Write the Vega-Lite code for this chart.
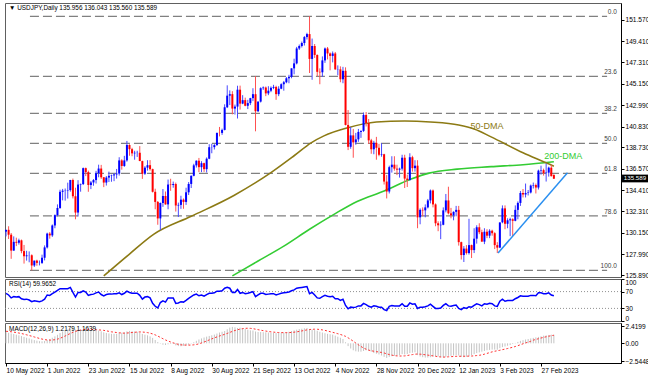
{
"$schema":"https://vega.github.io/schema/vega-lite/v6.json",
"background":"white",
"padding":{"left":2,"top":2,"right":0,"bottom":0},
"spacing":2,
"bounds":"flush",
"config":{"view":{"stroke":"#606060"},"font":"Liberation Sans","axis":{"labelFont":"Liberation Sans","labelFontSize":6.6,"labelColor":"#000000","domainColor":"#000000","tickColor":"#000000","tickSize":3,"labelPadding":1,"grid":false,"title":null,"labelOverlap":false,"labelFlush":false,"tickCount":40}},
"datasets":{
"k":[
{"i":0,"o":130.26,"h":130.44,"l":129.78,"c":130.44,"r":66,"m":1.60,"s":1.73},
{"i":1,"o":130.44,"h":130.80,"l":129.52,"c":129.95,"r":62,"m":1.52,"s":1.70},
{"i":2,"o":129.95,"h":130.12,"l":127.52,"c":128.35,"r":55,"m":1.42,"s":1.66},
{"i":3,"o":128.35,"h":129.78,"l":128.33,"c":129.23,"r":58,"m":1.33,"s":1.61},
{"i":4,"o":129.23,"h":129.65,"l":128.80,"c":129.14,"r":57,"m":1.24,"s":1.55},
{"i":5,"o":129.14,"h":129.55,"l":128.95,"c":129.38,"r":58,"m":1.15,"s":1.48},
{"i":6,"o":129.38,"h":129.46,"l":128.08,"c":128.30,"r":53,"m":1.04,"s":1.41},
{"i":7,"o":128.30,"h":128.92,"l":127.04,"c":127.78,"r":51,"m":0.92,"s":1.32},
{"i":8,"o":127.78,"h":128.33,"l":127.34,"c":127.87,"r":52,"m":0.80,"s":1.22},
{"i":9,"o":127.87,"h":128.27,"l":127.17,"c":127.88,"r":50,"m":0.70,"s":1.12},
{"i":10,"o":127.88,"h":127.97,"l":126.36,"c":126.85,"r":46,"m":0.56,"s":1.02},
{"i":11,"o":126.85,"h":127.34,"l":126.70,"c":127.34,"r":48,"m":0.46,"s":0.91},
{"i":12,"o":127.34,"h":127.43,"l":126.82,"c":127.11,"r":47,"m":0.38,"s":0.81},
{"i":13,"o":127.11,"h":127.35,"l":126.86,"c":127.12,"r":46,"m":0.31,"s":0.70},
{"i":14,"o":127.11,"h":127.94,"l":127.00,"c":127.63,"r":48,"m":0.28,"s":0.61},
{"i":15,"o":127.63,"h":128.87,"l":127.36,"c":128.67,"r":52,"m":0.33,"s":0.53},
{"i":16,"o":128.67,"h":130.15,"l":128.56,"c":130.06,"r":62,"m":0.48,"s":0.48},
{"i":17,"o":130.06,"h":130.21,"l":129.55,"c":129.88,"r":61,"m":0.62,"s":0.46},
{"i":18,"o":129.88,"h":130.98,"l":129.73,"c":130.88,"r":65,"m":0.80,"s":0.47},
{"i":19,"o":130.88,"h":131.99,"l":130.60,"c":131.92,"r":69,"m":1.00,"s":0.52},
{"i":20,"o":131.92,"h":133.00,"l":131.79,"c":132.64,"r":73,"m":1.22,"s":0.60},
{"i":21,"o":132.64,"h":134.48,"l":132.55,"c":134.27,"r":77,"m":1.48,"s":0.72},
{"i":22,"o":134.27,"h":134.56,"l":133.41,"c":134.38,"r":77,"m":1.70,"s":0.88},
{"i":23,"o":134.38,"h":134.60,"l":133.38,"c":134.40,"r":77,"m":1.86,"s":1.05},
{"i":24,"o":134.40,"h":135.19,"l":133.59,"c":134.44,"r":77,"m":1.97,"s":1.24},
{"i":25,"o":134.44,"h":135.47,"l":134.28,"c":135.46,"r":80,"m":2.07,"s":1.41},
{"i":26,"o":135.46,"h":135.60,"l":133.60,"c":133.82,"r":68,"m":2.16,"s":1.58},
{"i":27,"o":133.82,"h":134.68,"l":131.50,"c":132.18,"r":57,"m":1.98,"s":1.72},
{"i":28,"o":132.18,"h":135.44,"l":131.78,"c":135.00,"r":68,"m":1.96,"s":1.82},
{"i":29,"o":135.00,"h":135.10,"l":134.28,"c":135.05,"r":68,"m":1.95,"s":1.90},
{"i":30,"o":135.05,"h":136.71,"l":134.95,"c":136.65,"r":72,"m":2.05,"s":1.97},
{"i":31,"o":136.65,"h":136.71,"l":135.85,"c":136.25,"r":69,"m":2.10,"s":2.01},
{"i":32,"o":136.25,"h":136.40,"l":134.27,"c":134.95,"r":61,"m":1.98,"s":2.02},
{"i":33,"o":134.95,"h":135.36,"l":134.54,"c":135.21,"r":63,"m":1.88,"s":2.01},
{"i":34,"o":135.21,"h":135.55,"l":134.88,"c":135.45,"r":64,"m":1.80,"s":1.98},
{"i":35,"o":135.45,"h":136.38,"l":135.10,"c":136.14,"r":67,"m":1.80,"s":1.94},
{"i":36,"o":136.14,"h":137.00,"l":135.73,"c":136.61,"r":69,"m":1.84,"s":1.93},
{"i":37,"o":136.61,"h":136.98,"l":135.57,"c":135.73,"r":63,"m":1.72,"s":1.90},
{"i":38,"o":135.73,"h":135.76,"l":134.74,"c":135.20,"r":60,"m":1.58,"s":1.86},
{"i":39,"o":135.20,"h":135.85,"l":134.90,"c":135.70,"r":63,"m":1.48,"s":1.80},
{"i":40,"o":135.70,"h":136.30,"l":135.25,"c":135.88,"r":64,"m":1.42,"s":1.72},
{"i":41,"o":135.88,"h":136.00,"l":135.28,"c":135.92,"r":64,"m":1.37,"s":1.65},
{"i":42,"o":135.92,"h":136.14,"l":135.34,"c":136.02,"r":65,"m":1.36,"s":1.60},
{"i":43,"o":136.02,"h":136.57,"l":135.60,"c":136.10,"r":65,"m":1.36,"s":1.55},
{"i":44,"o":136.10,"h":137.75,"l":135.90,"c":137.43,"r":67,"m":1.50,"s":1.51},
{"i":45,"o":137.43,"h":137.55,"l":136.50,"c":136.87,"r":63,"m":1.52,"s":1.48},
{"i":46,"o":136.87,"h":137.89,"l":136.78,"c":137.43,"r":66,"m":1.58,"s":1.46},
{"i":47,"o":137.43,"h":139.39,"l":137.30,"c":138.98,"r":71,"m":1.72,"s":1.48},
{"i":48,"o":138.98,"h":139.05,"l":137.90,"c":138.56,"r":68,"m":1.78,"s":1.51},
{"i":49,"o":138.56,"h":138.70,"l":137.85,"c":138.14,"r":66,"m":1.74,"s":1.55},
{"i":50,"o":138.14,"h":138.40,"l":137.50,"c":138.20,"r":66,"m":1.70,"s":1.58},
{"i":51,"o":138.20,"h":138.40,"l":137.78,"c":138.21,"r":66,"m":1.65,"s":1.62},
{"i":52,"o":138.20,"h":138.87,"l":137.40,"c":137.36,"r":61,"m":1.55,"s":1.64},
{"i":53,"o":137.36,"h":137.40,"l":135.57,"c":136.09,"r":52,"m":1.35,"s":1.62},
{"i":54,"o":136.09,"h":136.85,"l":135.97,"c":136.70,"r":57,"m":1.24,"s":1.59},
{"i":55,"o":136.70,"h":137.45,"l":136.40,"c":136.95,"r":58,"m":1.15,"s":1.54},
{"i":56,"o":136.95,"h":137.46,"l":136.40,"c":136.55,"r":55,"m":1.00,"s":1.46},
{"i":57,"o":136.55,"h":136.60,"l":134.20,"c":134.27,"r":42,"m":0.78,"s":1.35},
{"i":58,"o":134.27,"h":134.58,"l":132.51,"c":133.25,"r":35,"m":0.48,"s":1.21},
{"i":59,"o":133.25,"h":133.34,"l":130.95,"c":131.59,"r":31,"m":0.18,"s":1.04},
{"i":60,"o":131.59,"h":133.19,"l":130.41,"c":133.14,"r":44,"m":-0.06,"s":0.85},
{"i":61,"o":133.14,"h":134.55,"l":132.75,"c":133.85,"r":48,"m":-0.20,"s":0.66},
{"i":62,"o":133.85,"h":134.30,"l":132.97,"c":133.00,"r":45,"m":-0.24,"s":0.48},
{"i":63,"o":133.00,"h":135.50,"l":132.51,"c":135.00,"r":55,"m":-0.14,"s":0.33},
{"i":64,"o":135.00,"h":135.58,"l":134.37,"c":134.95,"r":55,"m":-0.10,"s":0.19},
{"i":65,"o":134.95,"h":135.30,"l":134.68,"c":135.05,"r":55,"m":-0.10,"s":0.07},
{"i":66,"o":135.05,"h":135.20,"l":132.28,"c":132.89,"r":42,"m":-0.30,"s":-0.05},
{"i":67,"o":132.89,"h":133.18,"l":131.73,"c":132.95,"r":43,"m":-0.40,"s":-0.15},
{"i":68,"o":132.95,"h":133.87,"l":132.55,"c":133.48,"r":46,"m":-0.42,"s":-0.22},
{"i":69,"o":133.48,"h":133.60,"l":132.56,"c":133.25,"r":45,"m":-0.36,"s":-0.25},
{"i":70,"o":133.25,"h":134.68,"l":132.95,"c":134.22,"r":49,"m":-0.30,"s":-0.26},
{"i":71,"o":134.22,"h":135.25,"l":133.95,"c":135.06,"r":54,"m":-0.20,"s":-0.26},
{"i":72,"o":135.06,"h":135.92,"l":134.65,"c":135.88,"r":58,"m":-0.05,"s":-0.25},
{"i":73,"o":135.88,"h":137.09,"l":135.83,"c":136.93,"r":62,"m":0.15,"s":-0.22},
{"i":74,"o":136.93,"h":137.43,"l":136.71,"c":137.40,"r":64,"m":0.36,"s":-0.17},
{"i":75,"o":137.40,"h":137.68,"l":136.25,"c":136.75,"r":60,"m":0.55,"s":-0.07},
{"i":76,"o":136.75,"h":137.35,"l":136.25,"c":137.15,"r":62,"m":0.70,"s":0.05},
{"i":77,"o":137.15,"h":137.20,"l":136.27,"c":136.55,"r":59,"m":0.84,"s":0.19},
{"i":78,"o":136.55,"h":137.73,"l":136.21,"c":137.60,"r":63,"m":0.96,"s":0.33},
{"i":79,"o":137.60,"h":139.06,"l":137.55,"c":138.76,"r":66,"m":1.06,"s":0.49},
{"i":80,"o":138.76,"h":139.10,"l":138.15,"c":138.77,"r":66,"m":1.15,"s":0.64},
{"i":81,"o":138.77,"h":139.07,"l":138.53,"c":138.97,"r":67,"m":1.25,"s":0.78},
{"i":82,"o":138.97,"h":140.23,"l":138.90,"c":140.20,"r":71,"m":1.40,"s":0.92},
{"i":83,"o":140.20,"h":140.80,"l":139.85,"c":140.19,"r":71,"m":1.55,"s":1.05},
{"i":84,"o":140.20,"h":140.63,"l":140.00,"c":140.50,"r":72,"m":1.66,"s":1.17},
{"i":85,"o":140.50,"h":143.08,"l":140.45,"c":142.78,"r":78,"m":1.77,"s":1.29},
{"i":86,"o":142.78,"h":144.99,"l":142.70,"c":143.95,"r":80,"m":2.02,"s":1.42},
{"i":87,"o":143.95,"h":144.48,"l":143.00,"c":144.10,"r":78,"m":2.26,"s":1.57},
{"i":88,"o":144.10,"h":144.40,"l":142.07,"c":142.65,"r":68,"m":2.36,"s":1.71},
{"i":89,"o":142.65,"h":143.05,"l":142.05,"c":142.85,"r":68,"m":2.30,"s":1.84},
{"i":90,"o":142.85,"h":144.95,"l":141.65,"c":144.55,"r":75,"m":2.20,"s":1.95},
{"i":91,"o":144.55,"h":144.96,"l":142.55,"c":143.15,"r":66,"m":2.25,"s":2.04},
{"i":92,"o":143.15,"h":144.00,"l":143.09,"c":143.50,"r":68,"m":2.15,"s":2.11},
{"i":93,"o":143.50,"h":143.75,"l":142.88,"c":142.93,"r":65,"m":2.05,"s":2.15},
{"i":94,"o":142.93,"h":143.53,"l":142.60,"c":143.20,"r":66,"m":1.95,"s":2.17},
{"i":95,"o":143.20,"h":143.73,"l":143.00,"c":143.70,"r":68,"m":1.86,"s":2.15},
{"i":96,"o":143.70,"h":144.70,"l":143.40,"c":144.10,"r":70,"m":1.84,"s":2.11},
{"i":97,"o":144.10,"h":145.90,"l":140.36,"c":142.38,"r":58,"m":1.70,"s":2.03},
{"i":98,"o":142.38,"h":143.37,"l":142.30,"c":143.35,"r":62,"m":1.62,"s":1.96},
{"i":99,"o":143.35,"h":144.79,"l":143.26,"c":144.70,"r":66,"m":1.62,"s":1.89},
{"i":100,"o":144.70,"h":144.88,"l":144.53,"c":144.77,"r":66,"m":1.60,"s":1.82},
{"i":101,"o":144.77,"h":144.87,"l":143.90,"c":144.18,"r":63,"m":1.58,"s":1.76},
{"i":102,"o":144.18,"h":144.90,"l":144.00,"c":144.45,"r":64,"m":1.55,"s":1.70},
{"i":103,"o":144.45,"h":144.88,"l":144.30,"c":144.74,"r":65,"m":1.52,"s":1.65},
{"i":104,"o":144.74,"h":145.04,"l":144.60,"c":144.83,"r":65,"m":1.50,"s":1.61},
{"i":105,"o":144.83,"h":144.95,"l":143.53,"c":144.10,"r":62,"m":1.48,"s":1.57},
{"i":106,"o":144.10,"h":144.90,"l":143.90,"c":144.65,"r":64,"m":1.48,"s":1.55},
{"i":107,"o":144.65,"h":145.19,"l":144.60,"c":145.10,"r":66,"m":1.50,"s":1.54},
{"i":108,"o":145.10,"h":145.43,"l":144.45,"c":145.30,"r":67,"m":1.55,"s":1.53},
{"i":109,"o":145.30,"h":145.82,"l":145.20,"c":145.70,"r":68,"m":1.60,"s":1.53},
{"i":110,"o":145.70,"h":146.05,"l":145.20,"c":145.85,"r":69,"m":1.66,"s":1.54},
{"i":111,"o":145.85,"h":146.70,"l":145.70,"c":146.70,"r":72,"m":1.76,"s":1.56},
{"i":112,"o":146.70,"h":147.67,"l":146.10,"c":147.20,"r":74,"m":1.86,"s":1.60},
{"i":113,"o":147.20,"h":148.86,"l":147.10,"c":148.70,"r":78,"m":1.96,"s":1.65},
{"i":114,"o":148.70,"h":149.10,"l":148.55,"c":148.95,"r":79,"m":2.05,"s":1.71},
{"i":115,"o":148.95,"h":149.40,"l":148.80,"c":149.25,"r":80,"m":2.10,"s":1.78},
{"i":116,"o":149.25,"h":149.95,"l":149.00,"c":149.85,"r":81,"m":2.16,"s":1.86},
{"i":117,"o":149.85,"h":150.28,"l":149.60,"c":150.15,"r":82,"m":2.20,"s":1.93},
{"i":118,"o":150.15,"h":151.94,"l":146.23,"c":147.65,"r":65,"m":2.05,"s":1.98},
{"i":119,"o":147.65,"h":149.70,"l":145.55,"c":148.95,"r":68,"m":2.00,"s":2.02},
{"i":120,"o":148.95,"h":149.15,"l":147.75,"c":148.05,"r":62,"m":1.90,"s":2.03},
{"i":121,"o":148.05,"h":148.10,"l":145.90,"c":146.35,"r":55,"m":1.80,"s":2.02},
{"i":122,"o":146.35,"h":146.70,"l":145.10,"c":146.30,"r":54,"m":1.65,"s":1.99},
{"i":123,"o":146.30,"h":147.90,"l":145.85,"c":147.50,"r":58,"m":1.55,"s":1.93},
{"i":124,"o":147.50,"h":148.80,"l":147.25,"c":148.70,"r":61,"m":1.45,"s":1.86},
{"i":125,"o":148.70,"h":148.85,"l":147.60,"c":148.20,"r":59,"m":1.36,"s":1.77},
{"i":126,"o":148.20,"h":148.30,"l":146.50,"c":147.95,"r":58,"m":1.30,"s":1.67},
{"i":127,"o":147.95,"h":148.40,"l":147.30,"c":148.20,"r":59,"m":1.25,"s":1.58},
{"i":128,"o":148.20,"h":148.35,"l":146.55,"c":146.60,"r":53,"m":1.10,"s":1.48},
{"i":129,"o":146.60,"h":147.00,"l":146.00,"c":146.62,"r":53,"m":0.95,"s":1.38},
{"i":130,"o":146.60,"h":146.90,"l":145.30,"c":145.60,"r":49,"m":0.80,"s":1.27},
{"i":131,"o":145.60,"h":146.85,"l":145.20,"c":146.45,"r":52,"m":0.62,"s":1.15},
{"i":132,"o":146.45,"h":146.80,"l":140.95,"c":141.00,"r":37,"m":0.15,"s":1.00},
{"i":133,"o":141.00,"h":142.50,"l":138.47,"c":138.80,"r":29,"m":-0.40,"s":0.79},
{"i":134,"o":138.80,"h":140.80,"l":138.60,"c":139.95,"r":33,"m":-0.75,"s":0.56},
{"i":135,"o":139.95,"h":140.60,"l":137.70,"c":139.25,"r":32,"m":-1.00,"s":0.30},
{"i":136,"o":139.25,"h":140.20,"l":139.00,"c":139.55,"r":33,"m":-1.15,"s":0.04},
{"i":137,"o":139.55,"h":140.60,"l":139.30,"c":140.30,"r":36,"m":-1.20,"s":-0.22},
{"i":138,"o":140.30,"h":140.45,"l":139.70,"c":140.40,"r":36,"m":-1.20,"s":-0.46},
{"i":139,"o":140.40,"h":142.25,"l":140.30,"c":142.00,"r":42,"m":-1.10,"s":-0.67},
{"i":140,"o":142.00,"h":142.30,"l":140.85,"c":141.20,"r":39,"m":-1.00,"s":-0.85},
{"i":141,"o":141.20,"h":141.60,"l":139.10,"c":139.45,"r":35,"m":-1.05,"s":-0.98},
{"i":142,"o":139.45,"h":139.60,"l":138.10,"c":138.55,"r":33,"m":-1.20,"s":-1.07},
{"i":143,"o":138.55,"h":139.40,"l":138.05,"c":139.20,"r":36,"m":-1.40,"s":-1.14},
{"i":144,"o":139.20,"h":139.80,"l":137.50,"c":138.70,"r":35,"m":-1.50,"s":-1.20},
{"i":145,"o":138.70,"h":139.10,"l":137.85,"c":138.00,"r":33,"m":-1.60,"s":-1.25},
{"i":146,"o":138.00,"h":139.15,"l":137.80,"c":138.05,"r":33,"m":-1.75,"s":-1.31},
{"i":147,"o":138.05,"h":138.10,"l":135.00,"c":135.30,"r":27,"m":-1.95,"s":-1.39},
{"i":148,"o":135.30,"h":135.95,"l":133.60,"c":134.30,"r":25,"m":-2.10,"s":-1.51},
{"i":149,"o":134.30,"h":136.90,"l":134.10,"c":136.75,"r":35,"m":-1.95,"s":-1.61},
{"i":150,"o":136.75,"h":137.85,"l":136.20,"c":137.00,"r":37,"m":-1.85,"s":-1.70},
{"i":151,"o":137.00,"h":137.85,"l":136.40,"c":136.60,"r":36,"m":-1.80,"s":-1.77},
{"i":152,"o":136.60,"h":137.00,"l":135.95,"c":136.50,"r":36,"m":-1.75,"s":-1.81},
{"i":153,"o":136.50,"h":136.70,"l":135.70,"c":136.60,"r":36,"m":-1.70,"s":-1.83},
{"i":154,"o":136.60,"h":138.00,"l":136.40,"c":137.70,"r":41,"m":-1.55,"s":-1.82},
{"i":155,"o":137.70,"h":138.00,"l":134.65,"c":135.60,"r":35,"m":-1.60,"s":-1.81},
{"i":156,"o":135.60,"h":136.00,"l":134.75,"c":135.45,"r":35,"m":-1.55,"s":-1.76},
{"i":157,"o":135.45,"h":138.15,"l":135.40,"c":137.75,"r":43,"m":-1.40,"s":-1.68},
{"i":158,"o":137.75,"h":137.90,"l":136.30,"c":136.65,"r":40,"m":-1.35,"s":-1.62},
{"i":159,"o":136.65,"h":137.45,"l":136.30,"c":136.90,"r":41,"m":-1.30,"s":-1.56},
{"i":160,"o":136.90,"h":137.45,"l":130.60,"c":131.70,"r":30,"m":-1.70,"s":-1.54},
{"i":161,"o":131.70,"h":132.60,"l":131.00,"c":132.45,"r":33,"m":-1.90,"s":-1.56},
{"i":162,"o":132.45,"h":132.70,"l":131.80,"c":132.40,"r":33,"m":-2.00,"s":-1.59},
{"i":163,"o":132.40,"h":133.00,"l":131.70,"c":132.70,"r":34,"m":-2.05,"s":-1.65},
{"i":164,"o":132.70,"h":133.55,"l":132.60,"c":133.40,"r":36,"m":-2.05,"s":-1.70},
{"i":165,"o":133.40,"h":134.50,"l":133.10,"c":134.40,"r":40,"m":-2.00,"s":-1.75},
{"i":166,"o":134.40,"h":134.50,"l":132.70,"c":133.00,"r":35,"m":-1.90,"s":-1.81},
{"i":167,"o":133.00,"h":133.10,"l":130.80,"c":131.10,"r":30,"m":-1.85,"s":-1.86},
{"i":168,"o":131.10,"h":131.30,"l":130.30,"c":130.90,"r":30,"m":-1.90,"s":-1.93},
{"i":169,"o":130.90,"h":131.30,"l":129.50,"c":130.95,"r":31,"m":-2.00,"s":-1.96},
{"i":170,"o":130.95,"h":132.70,"l":130.90,"c":132.40,"r":37,"m":-2.05,"s":-1.98},
{"i":171,"o":132.40,"h":134.05,"l":132.20,"c":133.40,"r":41,"m":-1.95,"s":-1.97},
{"i":172,"o":133.40,"h":134.78,"l":132.00,"c":132.10,"r":36,"m":-1.80,"s":-1.94},
{"i":173,"o":132.10,"h":132.65,"l":131.60,"c":131.90,"r":35,"m":-1.80,"s":-1.92},
{"i":174,"o":131.90,"h":132.30,"l":131.40,"c":132.25,"r":37,"m":-1.75,"s":-1.89},
{"i":175,"o":132.25,"h":132.85,"l":131.80,"c":132.45,"r":38,"m":-1.70,"s":-1.87},
{"i":176,"o":132.45,"h":132.85,"l":128.85,"c":129.20,"r":30,"m":-1.75,"s":-1.86},
{"i":177,"o":129.20,"h":129.25,"l":127.45,"c":127.90,"r":27,"m":-1.95,"s":-1.86},
{"i":178,"o":127.90,"h":128.80,"l":127.20,"c":128.55,"r":32,"m":-2.00,"s":-1.86},
{"i":179,"o":128.55,"h":128.90,"l":127.95,"c":128.10,"r":30,"m":-1.95,"s":-1.85},
{"i":180,"o":128.10,"h":131.55,"l":127.95,"c":128.90,"r":34,"m":-1.85,"s":-1.84},
{"i":181,"o":128.90,"h":128.95,"l":127.60,"c":128.40,"r":33,"m":-1.70,"s":-1.83},
{"i":182,"o":128.40,"h":130.60,"l":128.10,"c":129.55,"r":37,"m":-1.55,"s":-1.80},
{"i":183,"o":129.55,"h":130.90,"l":129.05,"c":130.70,"r":41,"m":-1.40,"s":-1.76},
{"i":184,"o":130.70,"h":131.10,"l":130.00,"c":130.20,"r":39,"m":-1.30,"s":-1.72},
{"i":185,"o":130.20,"h":130.45,"l":129.25,"c":129.25,"r":36,"m":-1.20,"s":-1.66},
{"i":186,"o":129.25,"h":130.60,"l":129.00,"c":130.25,"r":41,"m":-1.10,"s":-1.56},
{"i":187,"o":130.25,"h":130.50,"l":129.60,"c":129.85,"r":40,"m":-1.00,"s":-1.45},
{"i":188,"o":129.85,"h":130.50,"l":129.60,"c":130.35,"r":42,"m":-0.95,"s":-1.34},
{"i":189,"o":130.35,"h":130.45,"l":129.85,"c":130.10,"r":41,"m":-0.90,"s":-1.23},
{"i":190,"o":130.10,"h":130.20,"l":128.50,"c":128.90,"r":36,"m":-0.90,"s":-1.14},
{"i":191,"o":128.90,"h":129.20,"l":128.10,"c":128.65,"r":35,"m":-0.92,"s":-1.07},
{"i":192,"o":128.65,"h":131.20,"l":128.60,"c":131.18,"r":47,"m":-0.70,"s":-1.00},
{"i":193,"o":131.20,"h":132.90,"l":131.10,"c":132.60,"r":52,"m":-0.55,"s":-0.91},
{"i":194,"o":132.60,"h":132.90,"l":130.50,"c":131.05,"r":47,"m":-0.45,"s":-0.83},
{"i":195,"o":131.05,"h":131.60,"l":130.60,"c":131.40,"r":49,"m":-0.35,"s":-0.75},
{"i":196,"o":131.40,"h":131.65,"l":129.80,"c":131.50,"r":49,"m":-0.25,"s":-0.66},
{"i":197,"o":131.50,"h":131.60,"l":129.80,"c":131.35,"r":49,"m":-0.10,"s":-0.57},
{"i":198,"o":131.35,"h":132.90,"l":131.30,"c":132.45,"r":53,"m":0.05,"s":-0.46},
{"i":199,"o":132.45,"h":133.30,"l":131.50,"c":133.15,"r":56,"m":0.20,"s":-0.34},
{"i":200,"o":133.15,"h":134.35,"l":132.85,"c":134.15,"r":60,"m":0.35,"s":-0.20},
{"i":201,"o":134.15,"h":134.55,"l":133.70,"c":134.00,"r":59,"m":0.45,"s":-0.07},
{"i":202,"o":134.00,"h":135.10,"l":133.70,"c":134.15,"r":59,"m":0.55,"s":0.05},
{"i":203,"o":134.15,"h":134.45,"l":133.90,"c":134.20,"r":59,"m":0.62,"s":0.17},
{"i":204,"o":134.20,"h":135.00,"l":134.10,"c":134.90,"r":61,"m":0.70,"s":0.29},
{"i":205,"o":134.90,"h":135.20,"l":134.60,"c":134.95,"r":61,"m":0.78,"s":0.45},
{"i":206,"o":134.95,"h":135.10,"l":134.10,"c":134.70,"r":60,"m":0.85,"s":0.56},
{"i":207,"o":134.70,"h":136.50,"l":134.50,"c":136.40,"r":67,"m":0.92,"s":0.66},
{"i":208,"o":136.40,"h":136.90,"l":136.00,"c":136.45,"r":67,"m":1.00,"s":0.76},
{"i":209,"o":136.45,"h":136.60,"l":135.90,"c":136.15,"r":65,"m":1.10,"s":0.85},
{"i":210,"o":136.15,"h":137.10,"l":135.30,"c":136.20,"r":65,"m":1.15,"s":0.94},
{"i":211,"o":136.20,"h":136.80,"l":135.80,"c":136.70,"r":67,"m":1.20,"s":1.02},
{"i":212,"o":136.70,"h":137.00,"l":135.80,"c":135.85,"r":62,"m":1.24,"s":1.10},
{"i":213,"o":135.956,"h":136.043,"l":135.56,"c":135.589,"r":60,"m":1.22,"s":1.16}
],
"fib":[
{"lv":"0.0","p":151.94},{"lv":"23.6","p":145.90},{"lv":"38.2","p":142.17},{"lv":"50.0","p":139.15},{"lv":"61.8","p":136.13},{"lv":"78.6","p":131.84},{"lv":"100.0","p":126.36}
],
"ma50":[
{"i":38,"v":125.8},{"i":48,"v":128.0},{"i":57.5,"v":130.0},{"i":72,"v":131.8},{"i":88.6,"v":133.9},{"i":103,"v":136.2},{"i":112,"v":137.9},{"i":118.6,"v":139.2},{"i":123.6,"v":139.9},{"i":132.6,"v":140.7},{"i":144,"v":141.3},{"i":155,"v":141.4},{"i":165,"v":141.3},{"i":176,"v":141.0},{"i":182,"v":140.6},{"i":188.6,"v":139.8},{"i":201,"v":138.2},{"i":209,"v":137.3},{"i":213,"v":136.85}
],
"ma200":[
{"i":88,"v":125.8},{"i":98,"v":127.3},{"i":108,"v":128.8},{"i":118,"v":130.5},{"i":127.5,"v":132.0},{"i":136.5,"v":133.3},{"i":147,"v":134.35},{"i":157.5,"v":135.55},{"i":164.5,"v":136.15},{"i":175.4,"v":136.55},{"i":188.6,"v":136.8},{"i":201,"v":137.0},{"i":213,"v":137.3}
],
"tl":[{"i":191.3,"v":128.1},{"i":218.3,"v":136.19}]
},
"vconcat":[
{
"width":616,"height":274,
"layer":[
{"data":{"name":"fib"},"mark":{"type":"rule","strokeDash":[9,4],"color":"#808080","strokeWidth":1.2},
 "encoding":{"x":{"datum":9.3,"type":"quantitative","scale":{"domain":[-0.4,239.1],"nice":false,"zero":false},"axis":null},"x2":{"datum":233.7},
 "y":{"field":"p","type":"quantitative","scale":{"domain":[125.69,153.28],"nice":false,"zero":false},
  "axis":{"orient":"right","labelOverlap":false,"tickCount":40,"values":[151.57,149.41,147.31,145.15,142.99,140.83,138.73,136.57,134.41,132.31,130.15,127.99,125.89],"format":".3f"}}}},
{"data":{"name":"fib"},"mark":{"type":"text","align":"right","baseline":"bottom","dy":-1,"fontSize":6.5,"color":"#404040"},
 "encoding":{"x":{"datum":237.5,"type":"quantitative","scale":{"domain":[-0.4,239.1],"nice":false,"zero":false},"axis":null},"y":{"field":"p","type":"quantitative","scale":{"domain":[125.69,153.28],"nice":false,"zero":false}},"text":{"field":"lv"}}},
{"data":{"name":"ma200"},"mark":{"type":"line","color":"#33cc33","strokeWidth":1.6,"interpolate":"monotone"},
 "encoding":{"x":{"field":"i","type":"quantitative","scale":{"domain":[-0.4,239.1],"nice":false,"zero":false},"axis":null},"y":{"field":"v","type":"quantitative","scale":{"domain":[125.69,153.28],"nice":false,"zero":false}}}},
{"data":{"name":"ma50"},"mark":{"type":"line","color":"#8c7a14","strokeWidth":1.6,"interpolate":"monotone"},
 "encoding":{"x":{"field":"i","type":"quantitative","scale":{"domain":[-0.4,239.1],"nice":false,"zero":false},"axis":null},"y":{"field":"v","type":"quantitative","scale":{"domain":[125.69,153.28],"nice":false,"zero":false}}}},
{"data":{"name":"k"},"mark":{"type":"rule","strokeWidth":1},
 "encoding":{"x":{"field":"i","type":"quantitative","scale":{"domain":[-0.4,239.1],"nice":false,"zero":false},"axis":null},"y":{"field":"l","type":"quantitative","scale":{"domain":[125.69,153.28],"nice":false,"zero":false}},"y2":{"field":"h"},
 "color":{"condition":{"test":"datum.c >= datum.o","value":"#4848ff"},"value":"#ff5050"}}},
{"data":{"name":"k"},"mark":{"type":"rule","strokeWidth":2},
 "encoding":{"x":{"field":"i","type":"quantitative","scale":{"domain":[-0.4,239.1],"nice":false,"zero":false},"axis":null},"y":{"field":"o","type":"quantitative","scale":{"domain":[125.69,153.28],"nice":false,"zero":false}},"y2":{"field":"c"},
 "color":{"condition":{"test":"datum.c >= datum.o","value":"#0000ff"},"value":"#ff0000"}}},
{"data":{"name":"tl"},"mark":{"type":"line","color":"#2a8ff0","strokeWidth":1.5},
 "encoding":{"x":{"field":"i","type":"quantitative","scale":{"domain":[-0.4,239.1],"nice":false,"zero":false},"axis":null},"y":{"field":"v","type":"quantitative","scale":{"domain":[125.69,153.28],"nice":false,"zero":false}}}},
{"data":{"values":[{"t":"50-DMA"}]},"mark":{"type":"text","fontSize":9,"color":"#8c7a14","align":"center","baseline":"middle"},
 "encoding":{"x":{"datum":187,"type":"quantitative","scale":{"domain":[-0.4,239.1],"nice":false,"zero":false},"axis":null},"y":{"datum":140.9,"type":"quantitative","scale":{"domain":[125.69,153.28],"nice":false,"zero":false}},"text":{"field":"t"}}},
{"data":{"values":[{"t":"200-DMA"}]},"mark":{"type":"text","fontSize":9,"color":"#33cc33","align":"center","baseline":"middle"},
 "encoding":{"x":{"datum":216.6,"type":"quantitative","scale":{"domain":[-0.4,239.1],"nice":false,"zero":false},"axis":null},"y":{"datum":137.87,"type":"quantitative","scale":{"domain":[125.69,153.28],"nice":false,"zero":false}},"text":{"field":"t"}}},
{"data":{"values":[{"t":"▼ USDJPY,Daily  135.956 136.043 135.560 135.589"}]},"mark":{"type":"text","fontSize":6.4,"color":"#000000","align":"left","baseline":"middle"},
 "encoding":{"x":{"datum":1.2,"type":"quantitative","scale":{"domain":[-0.4,239.1],"nice":false,"zero":false},"axis":null},"y":{"datum":152.75,"type":"quantitative","scale":{"domain":[125.69,153.28],"nice":false,"zero":false}},"text":{"field":"t"}}},
{"data":{"values":[{"t":"135.589"}]},"mark":{"type":"rect","color":"#000000"},
 "encoding":{"x":{"datum":239.5,"type":"quantitative","scale":{"domain":[-0.4,239.1],"nice":false,"zero":false},"axis":null},"x2":{"datum":250.4},"y":{"datum":136.0,"type":"quantitative","scale":{"domain":[125.69,153.28],"nice":false,"zero":false}},"y2":{"datum":135.22}}},
{"data":{"values":[{"t":"135.589"}]},"mark":{"type":"text","fontSize":6.2,"color":"#ffffff","align":"left","baseline":"middle"},
 "encoding":{"x":{"datum":240.2,"type":"quantitative","scale":{"domain":[-0.4,239.1],"nice":false,"zero":false},"axis":null},"y":{"datum":135.61,"type":"quantitative","scale":{"domain":[125.69,153.28],"nice":false,"zero":false}},"text":{"field":"t"}}}
]
},
{
"width":616,"height":42,
"layer":[
{"data":{"values":[{"v":70},{"v":30}]},"mark":{"type":"rule","strokeDash":[1,2],"color":"#909090","strokeWidth":1},
 "encoding":{"y":{"field":"v","type":"quantitative","scale":{"domain":[0,100],"nice":false},"axis":{"orient":"right","labelOverlap":false,"tickCount":40,"values":[0,30,70,100],"labelOffset":{"condition":{"test":"datum.value == 100","value":3},"value":0},"labelBaseline":{"condition":{"test":"datum.value == 0","value":"bottom"},"value":"middle"}}}}},
{"data":{"name":"k"},"mark":{"type":"line","color":"#0000ff","strokeWidth":1.5},
 "encoding":{"x":{"field":"i","type":"quantitative","scale":{"domain":[-0.4,239.1],"nice":false,"zero":false},"axis":null},"y":{"field":"r","type":"quantitative","scale":{"domain":[0,100],"nice":false}}}},
{"data":{"values":[{"t":"RSI(14) 59.9652"}]},"mark":{"type":"text","fontSize":6.4,"color":"#000000","align":"left","baseline":"middle"},
 "encoding":{"x":{"datum":1.2,"type":"quantitative","scale":{"domain":[-0.4,239.1],"nice":false,"zero":false},"axis":null},"y":{"datum":88,"type":"quantitative","scale":{"domain":[0,100],"nice":false}},"text":{"field":"t"}}}
]
},
{
"width":616,"height":40,
"layer":[
{"data":{"name":"k"},"mark":{"type":"rule","color":"#c4c4c4","strokeWidth":1},
 "encoding":{"x":{"field":"i","type":"quantitative","scale":{"domain":[-0.4,239.1],"nice":false,"zero":false},
   "axis":{"values":[0,16,32,48,64,80,96,112,128,144,160,176,192,208],"tickCount":40,"labelOverlap":false,"labelAlign":"left","labelPadding":1,"labelExpr":"['10 May 2022','1 Jun 2022','23 Jun 2022','15 Jul 2022','8 Aug 2022','30 Aug 2022','21 Sep 2022','13 Oct 2022','4 Nov 2022','28 Nov 2022','20 Dec 2022','12 Jan 2023','3 Feb 2023','27 Feb 2023'][round(datum.value/16)]"}},
  "y":{"field":"m","type":"quantitative","scale":{"domain":[-2.83,2.92],"nice":false,"zero":false},
   "axis":{"orient":"right","labelOverlap":false,"tickCount":40,"values":[-2.5448,0,2.4199],"labelExpr":"datum.value == 0 ? '0.00' : format(datum.value, '.4f')"}},
  "y2":{"datum":0}}},
{"data":{"name":"k"},"mark":{"type":"line","color":"#ff3030","strokeWidth":1,"strokeDash":[2,2]},
 "encoding":{"x":{"field":"i","type":"quantitative","scale":{"domain":[-0.4,239.1],"nice":false,"zero":false}},"y":{"field":"s","type":"quantitative","scale":{"domain":[-2.83,2.92],"nice":false,"zero":false}}}},
{"data":{"values":[{"t":"MACD(12,26,9) 1.2179 1.1639"}]},"mark":{"type":"text","fontSize":6.4,"color":"#000000","align":"left","baseline":"middle"},
 "encoding":{"x":{"datum":1.2,"type":"quantitative","scale":{"domain":[-0.4,239.1],"nice":false,"zero":false}},"y":{"datum":2.1,"type":"quantitative","scale":{"domain":[-2.83,2.92],"nice":false,"zero":false}},"text":{"field":"t"}}}
]
}
]
}
